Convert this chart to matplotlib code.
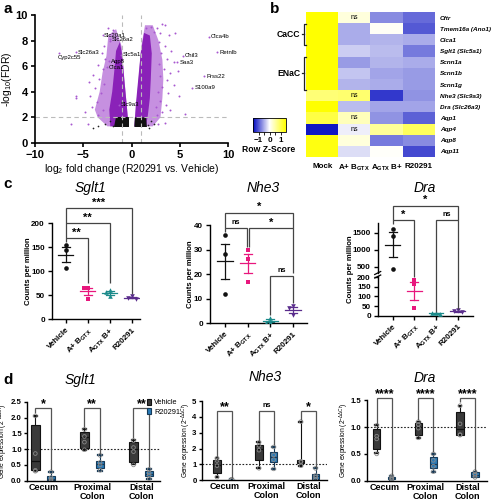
import matplotlib
matplotlib.use('Agg')
import matplotlib.pyplot as plt
import matplotlib.ticker
import numpy as np
from matplotlib.colors import LinearSegmentedColormap
from matplotlib.lines import Line2D
from matplotlib.patches import Polygon, Patch

plt.rcParams['font.family'] = ['Liberation Sans', 'DejaVu Sans']
plt.rcParams['mathtext.fontset'] = 'custom'
plt.rcParams['mathtext.rm'] = 'Liberation Sans'
plt.rcParams['mathtext.it'] = 'Liberation Sans:italic'
plt.rcParams['mathtext.bf'] = 'Liberation Sans:bold'

# ---------------- DATA ----------------
# Panel a: volcano plot (dense cloud envelopes + individual sparse points)
left_sparse = [(-0.3, 1.3), (-0.5, 3), (-0.8, 5.5), (-1.0, 7.5), (-1.6, 8.9), (-2.4, 8.4), (-2.6, 6.8),
               (-3.0, 5.5), (-3.3, 4.0), (-3.8, 2.6), (-3.5, 2.0), (-2.5, 1.3)]
left_dense = [(-0.3, 1.3), (-0.5, 3), (-0.75, 5), (-0.95, 6.8), (-1.2, 7.9), (-1.6, 7.2), (-1.8, 5.5),
              (-2.0, 4), (-2.3, 2.6), (-2.2, 1.3)]
right_sparse = [(0.3, 1.3), (0.5, 3), (0.8, 5.5), (1.0, 7.5), (1.4, 9.2), (2.2, 9.2), (2.8, 8), (3.2, 6.5),
                (3.3, 5), (3.2, 3.5), (3.0, 2.0), (2.2, 1.3)]
right_dense = [(0.3, 1.3), (0.45, 3), (0.7, 5), (0.95, 7), (1.3, 8.6), (1.9, 8.4), (2.1, 7), (2.0, 5),
               (1.9, 3.5), (1.7, 2.2), (1.5, 1.3)]
left_ns = [(-1.8, 1.25), (-0.3, 1.25), (-0.3, 2.0), (-1.6, 2.0)]
right_ns = [(0.3, 1.25), (1.6, 1.25), (1.5, 2.0), (0.35, 2.0)]
sig_x = [1.5, 2.0, 2.6, 3.2, 3.5, 2.3, 3.0, 3.9, 4.5, 2.8, 3.5, 4.1, 3.1, 3.7, 4.4, 2.9, 3.4, 4.0, 4.8, 3.0,
         3.7, 4.4, 3.2, 2.7, 3.8, 4.9, 3.0, 3.6, 2.5, 4.0, 3.2, 5.5, 2.6, 3.5, 2.7,
         -1.9, -2.4, -2.2, -2.8, -3.1, -2.7, -3.5, -3.0, -4.0, -3.4, -2.9, -4.4, -3.8, -3.2, -4.3, -5.7,
         -5.7, -3.6, -4.1, -3.0, -4.8, -3.5, -6.3, -4.5]
sig_y = [9.0, 9.1, 9.0, 9.3, 9.2, 8.7, 8.6, 8.4, 8.6, 7.9, 7.6, 7.2, 7.0, 6.6, 6.3, 6.2, 5.8, 5.5, 5.6, 5.2,
         4.9, 4.5, 4.4, 4.0, 3.9, 3.7, 3.3, 3.0, 2.8, 2.6, 2.4, 2.3, 2.2, 1.6, 1.5,
         8.8, 9.0, 8.0, 7.6, 7.0, 6.6, 6.1, 5.8, 5.3, 5.0, 4.6, 4.8, 4.3, 3.9, 3.7, 3.7,
         3.5, 3.2, 2.8, 2.6, 2.4, 2.2, 1.5, 1.5]
ns_x = [-3.5, -2.7, -2.2, -1.9, -4.0, 1.7, 2.0, 1.8, 2.3]
ns_y = [1.3, 1.5, 1.7, 1.3, 1.2, 1.4, 1.7, 1.2, 1.5]
genes = ['Cyp2c55', 'Slc26a3', 'Slc20a1', 'Slc26a2', 'Slc5a1', 'Aqp8', 'Clca1', 'Slc9a3',
         'Clca4b', 'Retnlb', 'Chil3', 'Saa3', 'Prss22', 'S100a9']
gene_x = [-7.5, -5.7, -3.0, -2.2, -1.1, -2.3, -2.5, -1.3, 8.0, 8.9, 5.3, 4.7, 7.5, 6.3]
gene_y = [7.05, 7.1, 8.4, 8.1, 6.9, 6.4, 5.9, 3.0, 8.3, 7.1, 6.8, 6.3, 5.2, 4.3]

# Panel b: heatmap (row z-scores)
hm_rows = ['Cftr', 'Tmem16a (Ano1)', 'Clca1', 'Sglt1 (Slc5a1)', 'Scnn1a', 'Scnn1b', 'Scnn1g',
           'Nhe3 (Slc9a3)', 'Dra (Slc26a3)', 'Aqp1', 'Aqp4', 'Aqp8', 'Aqp11']
hm_cols = ['Mock', 'A+ B$_{\\mathbf{GTX}}$', 'A$_{\\mathbf{GTX}}$ B+', 'R20291']
mock_z = [1.5, 1.5, 1.5, 1.5, 1.5, 1.5, 1.5, 0.8, 1.5, 1.1, -1.4, 1.4, 1.4]
abgtx_z = [0.2, -0.5, -0.5, -0.3, -0.6, -0.35, -0.45, 0.85, -0.4, 0.4, -0.1, 0.2, -0.2]
agtxb_z = [-0.7, 0.05, -0.45, -0.4, -0.45, -0.55, -0.5, -1.2, -0.55, -0.65, 0.6, -0.8, 0.03]
r20291_z = [-0.9, -1.0, -0.5, -0.8, -0.5, -0.6, -0.6, -0.65, -0.55, -0.95, 0.95, -0.7, -1.1]
ns_cells = [(0, 1), (7, 1), (9, 1), (10, 1)]

# Panel c: counts per million
c_groups = ['Vehicle', 'A+ B$_{\\mathbf{GTX}}$', 'A$_{\\mathbf{GTX}}$ B+', 'R20291']
sglt1_cpm = [[155, 144, 106], [66, 65, 43], [62, 56, 48], [48, 44, 43]]
nhe3_cpm = [[35.9, 28.0, 11.8], [30.0, 26.3, 16.9], [2.3, 0.7, 0.3], [6.9, 6.3, 3.2]]
dra_cpm = [[1607, 1385, 425], [186, 163, 38], [15, 12, 10], [28, 22, 18]]

# Panel d: qPCR box plots (whislo, q1, med, q3, whishi)
regions = ['Cecum', 'Proximal\nColon', 'Distal\nColon']
sglt1_veh = [(0.31, 0.34, 0.62, 1.76, 2.06), (0.97, 1.02, 1.37, 1.55, 1.63), (0.52, 0.60, 1.0, 1.23, 1.28)]
sglt1_r = [(0.0, 0.02, 0.06, 0.15, 0.28), (0.32, 0.39, 0.53, 0.62, 0.81), (0.05, 0.15, 0.22, 0.31, 0.37)]
sglt1_veh_pts = [[2.05, 0.86, 0.33, 0.30], [1.62, 1.40, 1.22, 0.98], [1.27, 1.05, 0.92, 0.50]]
sglt1_r_pts = [[0.28, 0.10, 0.05, 0.02], [0.80, 0.58, 0.50, 0.33], [0.36, 0.25, 0.18, 0.06]]
nhe3_veh = [(0.19, 0.44, 0.97, 1.28, 1.39), (0.76, 1.30, 2.0, 2.25, 2.40), (0.92, 1.11, 1.18, 1.28, 3.70)]
nhe3_r = [(0.0, 0.0, 0.02, 0.05, 0.08), (0.71, 1.13, 1.45, 1.80, 2.12), (0.04, 0.08, 0.25, 0.38, 0.76)]
nhe3_veh_pts = [[1.38, 1.25, 0.92, 0.20], [2.38, 2.20, 1.90, 0.76], [3.70, 1.20, 1.15, 0.92]]
nhe3_r_pts = [[0.07, 0.04, 0.02, 0.01], [2.10, 1.60, 1.30, 0.72], [0.75, 0.30, 0.20, 0.05]]
dra_veh = [(0.51, 0.585, 0.82, 0.96, 1.04), (0.79, 0.85, 0.995, 1.08, 1.10), (0.85, 0.85, 0.96, 1.29, 1.40)]
dra_r = [(0.02, 0.025, 0.05, 0.075, 0.09), (0.17, 0.23, 0.32, 0.45, 0.50), (0.06, 0.075, 0.11, 0.155, 0.17)]
dra_veh_pts = [[1.03, 0.83, 0.78, 0.50], [1.10, 1.05, 0.98, 0.80], [1.40, 1.06, 0.86, 0.85]]
dra_r_pts = [[0.09, 0.06, 0.04, 0.02], [0.50, 0.38, 0.27, 0.17], [0.17, 0.12, 0.10, 0.06]]

# ---------------- FIGURE ----------------
W, H = 493, 500
fig = plt.figure(figsize=(W / 100, H / 100), dpi=100)


def rect(x0, y0, x1, y1):
    return [x0 / W, 1 - y1 / H, (x1 - x0) / W, (y1 - y0) / H]


inv = fig.transFigure.inverted()


def fpt(ax, x, y):
    return inv.transform(ax.transData.transform((x, y)))


def polyline(pts, lw=0.9, color='#444444'):
    P = np.array([fpt(*p) for p in pts])
    fig.add_artist(Line2D(P[:, 0], P[:, 1], transform=fig.transFigure, color=color, lw=lw,
                          solid_joinstyle='miter', solid_capstyle='butt'))


def star(ax, x, y, s, size=8, dy=0.5):
    fx, fy = fpt(ax, x, y)
    if s == 'ns':
        size = 5.2
        dy = 2
    fig.text(fx, fy + dy / H, s, ha='center', va='bottom', fontsize=size, fontweight='bold')


def style_axes(ax, lw=1.0, length=3, pad=2):
    for s in ['top', 'right']:
        ax.spines[s].set_visible(False)
    for s in ['left', 'bottom']:
        ax.spines[s].set_linewidth(lw)
    ax.tick_params(width=lw, length=length, pad=pad)


def ylabel_at(ax, text, px_right, x0, x1, **kw):
    # px_right: pixel x of the label's right edge (rotated label extends to the left)
    ax.set_ylabel(text, **kw)
    ax.yaxis.set_label_coords((px_right - x0) / (x1 - x0), 0.5)


fig.text(3 / W, 1 - 9 / H, 'a', fontsize=11, fontweight='bold', va='center')
fig.text(270 / W, 1 - 9 / H, 'b', fontsize=11, fontweight='bold', va='center')
fig.text(3 / W, 1 - 184 / H, 'c', fontsize=11, fontweight='bold', va='center')
fig.text(3 / W, 1 - 380 / H, 'd', fontsize=11, fontweight='bold', va='center')

# ---- Panel a ----
axa = fig.add_axes(rect(35, 15, 228, 143))
axa.set_xlim(-10, 10)
axa.set_ylim(0, 10)
axa.add_patch(Polygon(left_sparse, closed=True, fc='#c690e0', ec='none'))
axa.add_patch(Polygon(right_sparse, closed=True, fc='#c690e0', ec='none'))
axa.add_patch(Polygon(left_dense, closed=True, fc='#8a22b8', ec='none'))
axa.add_patch(Polygon(right_dense, closed=True, fc='#8a22b8', ec='none'))
axa.scatter(sig_x, sig_y, s=2, c='#a858d0', lw=0)
axa.add_patch(Polygon(left_ns, closed=True, fc='#111111', ec='none'))
axa.add_patch(Polygon(right_ns, closed=True, fc='#111111', ec='none'))
axa.scatter(ns_x, ns_y, s=1.5, c='#222222', lw=0)
axa.scatter(gene_x, gene_y, s=2, c='#a858d0', lw=0)
for g, x, y in zip(genes, gene_x, gene_y):
    if x > 0:
        axa.text(x + 0.25, y, g, fontsize=4.3, va='center', ha='left', clip_on=False)
    elif g == 'Cyp2c55':
        axa.text(x - 0.1, y - 0.35, g, fontsize=4.3, va='center', ha='left')
    else:
        axa.text(x + 0.15, y, g, fontsize=4.3, va='center', ha='left')
for v in (-1, 1):
    axa.axvline(v, ls=(0, (4, 3)), color='#bbbbbb', lw=0.8)
axa.axhline(2, ls=(0, (4, 3)), color='#bbbbbb', lw=0.8)
axa.set_xticks([-10, -5, 0, 5, 10])
axa.set_yticks([0, 2, 4, 6, 8, 10])
style_axes(axa, 1.2)
for t in axa.get_xticklabels() + axa.get_yticklabels():
    t.set_fontsize(8)
    t.set_fontweight('bold')
axa.set_xlabel('log$_2$ fold change (R20291 vs. Vehicle)', fontsize=7.5, labelpad=1.5)
axa.set_ylabel('-log$_{10}$(FDR)', fontsize=7.5, labelpad=1.5)

# ---- Panel b ----
cmap = LinearSegmentedColormap.from_list('byw', ['#0008c0', '#ffffff', '#ffff00'])
Z = np.array([mock_z, abgtx_z, agtxb_z, r20291_z]).T
axb = fig.add_axes(rect(295, 12, 435, 157))
im = axb.imshow(Z, cmap=cmap, vmin=-1.5, vmax=1.5, aspect='auto', interpolation='nearest')
for s in axb.spines.values():
    s.set_visible(False)
axb.yaxis.tick_right()
axb.set_yticks(range(len(hm_rows)))
axb.set_yticklabels(hm_rows, fontsize=4.6, fontstyle='italic', fontweight='bold')
axb.set_xticks(range(4))
axb.set_xticklabels(hm_cols, fontsize=5.8, fontweight='bold')
axb.tick_params(axis='y', length=0, pad=3.5)
axb.tick_params(axis='x', length=0, pad=4)
for r, c in ns_cells:
    axb.text(c, r, 'ns', ha='center', va='center', fontsize=5)
for (r0, r1, lab) in [(1, 2, 'CaCC'), (4, 6, 'ENaC')]:
    bx = -0.56
    axb.plot([bx + 0.07, bx, bx, bx + 0.07], [r0 - 0.45, r0 - 0.45, r1 + 0.45, r1 + 0.45],
             color='#222222', lw=0.9, clip_on=False)
    axb.plot([bx - 0.08, bx], [(r0 + r1) / 2] * 2, color='#222222', lw=0.9, clip_on=False)
    axb.text(bx - 0.12, (r0 + r1) / 2, lab, ha='right', va='center', fontsize=6.2, fontweight='bold')
cax = fig.add_axes(rect(253, 118, 286, 132))
cb = fig.colorbar(im, cax=cax, orientation='horizontal', ticks=[-1, 0, 1])
cb.outline.set_linewidth(0.6)
cax.set_xticks([-1.0, -0.5, 0.5, 1.0], minor=True)
cax.tick_params(labelsize=5.8, length=2.5, width=0.6, pad=1)
cax.tick_params(which='minor', length=2.5, width=0.6)
for t in cax.get_xticklabels():
    t.set_fontweight('bold')
fig.text(269 / W, 1 - 150 / H, 'Row Z-Score', ha='center', va='center', fontsize=6.2, fontweight='bold')

# ---- Panel c ----
dot_colors = ['#111111', '#e8177d', '#1b8a8a', '#5a2d8c']
dot_markers = ['o', 's', '^', 'v']


def swarm_offsets(ax, vals, i, step_px=4.2):
    placed = []
    offs = []
    for v in vals:
        yp = ax.transData.transform((i, v))[1]
        for k in [0, -1, 1, -2, 2]:
            ok = all(abs(yp - py) > 3.8 or k != kk for py, kk in placed)
            if ok:
                break
        placed.append((yp, k))
        offs.append(k)
    x0 = ax.transData.transform((0, 0))[0]
    x1 = ax.transData.transform((1, 0))[0]
    return np.array(offs) * step_px / (x1 - x0)


def dot_panel(axes, data):
    for ax in axes:
        for i, vals in enumerate(data):
            col = dot_colors[i]
            offs = swarm_offsets(axes[-1], vals, i)
            ax.scatter(i + offs, vals, s=11, marker=dot_markers[i], color=col, lw=0, zorder=3)
            m = np.mean(vals)
            se = np.std(vals, ddof=1) / np.sqrt(len(vals))
            ax.plot([i - 0.34, i + 0.34], [m, m], color=col, lw=0.9)
            ax.plot([i, i], [m - se, m + se], color=col, lw=0.9)
            ax.plot([i - 0.18, i + 0.18], [m - se] * 2, color=col, lw=0.9)
            ax.plot([i - 0.18, i + 0.18], [m + se] * 2, color=col, lw=0.9)


def c_xlabels(ax):
    ax.set_xticks(range(4))
    ax.set_xticklabels(c_groups, rotation=45, ha='right', rotation_mode='anchor', fontsize=5.8,
                       fontweight='bold')


def c_ylabels(ax):
    for t in ax.get_yticklabels():
        t.set_fontsize(5.8)
        t.set_fontweight('bold')


cpm_kw = dict(fontsize=5.6, fontweight='bold')

# Sglt1
ax1 = fig.add_axes(rect(51.7, 223.3, 140, 319.3))
ax1.set_xlim(-0.64, 3.37)
ax1.set_ylim(0, 200)
ax1.set_yticks([0, 50, 100, 150, 200])
style_axes(ax1)
dot_panel([ax1], sglt1_cpm)
c_xlabels(ax1)
c_ylabels(ax1)
ylabel_at(ax1, 'Counts per million', 32, 51.7, 140, **cpm_kw)
fig.text(90 / W, 1 - 188 / H, 'Sglt1', fontsize=10, fontstyle='italic', ha='center', va='center')
polyline([(ax1, 0, 162), (ax1, 0, 231), (ax1, 3, 231), (ax1, 3, 52)])
polyline([(ax1, 0, 200), (ax1, 2, 200), (ax1, 2, 75)])
polyline([(ax1, 0, 169), (ax1, 1, 169), (ax1, 1, 75)])
star(ax1, 0.5, 169, '**')
star(ax1, 1.0, 200, '**')
star(ax1, 1.5, 231, '***')

# Nhe3
ax2 = fig.add_axes(rect(210, 225, 306.7, 323.3))
ax2.set_xlim(-0.66, 3.6)
ax2.set_ylim(0, 40)
ax2.set_yticks([0, 10, 20, 30, 40])
style_axes(ax2)
dot_panel([ax2], nhe3_cpm)
c_xlabels(ax2)
c_ylabels(ax2)
ylabel_at(ax2, 'Counts per million', 193.5, 210, 306.7, **cpm_kw)
fig.text(263 / W, 1 - 188 / H, 'Nhe3', fontsize=10, fontstyle='italic', ha='center', va='center')
polyline([(ax2, 0, 38.6), (ax2, 0, 45), (ax2, 3, 45), (ax2, 3, 38.6)])
polyline([(ax2, 0, 37.0), (ax2, 0, 38.6), (ax2, 0.97, 38.6), (ax2, 0.97, 31)])
polyline([(ax2, 1.08, 31), (ax2, 1.08, 38.6), (ax2, 3, 38.6), (ax2, 3, 20.3)])
polyline([(ax2, 2, 3.4), (ax2, 2, 19.2), (ax2, 3, 19.2), (ax2, 3, 8.1)])
star(ax2, 1.5, 45, '*')
star(ax2, 0.48, 38.6, 'ns')
star(ax2, 2.04, 38.6, '*')
star(ax2, 2.5, 19.2, 'ns')

# Dra (broken axis)
axu = fig.add_axes(rect(377.7, 223.3, 473, 273.3))
axl = fig.add_axes(rect(377.7, 276.3, 473, 315.7))
for ax in (axu, axl):
    ax.set_xlim(-0.69, 3.7)
    style_axes(ax)
axu.set_ylim(310, 1770)
axl.set_ylim(0, 205)
axu.set_yticks([500, 1000, 1500])
axl.set_yticks([0, 50, 100, 150, 200])
axu.spines['bottom'].set_visible(False)
axu.set_xticks([])
dot_panel([axu, axl], dra_cpm)
c_xlabels(axl)
c_ylabels(axl)
c_ylabels(axu)
fig.text(350 / W, 1 - 269 / H, 'Counts per million', rotation=90, ha='center', va='center', **cpm_kw)
fig.text(425 / W, 1 - 188 / H, 'Dra', fontsize=10, fontstyle='italic', ha='center', va='center')
bx0 = 377.7 / W
for dy in (273.0, 276.5):
    fig.add_artist(Line2D([bx0 - 3 / W, bx0 + 3 / W], [1 - (dy + 1.5) / H, 1 - (dy - 1.5) / H],
                          transform=fig.transFigure, color='black', lw=0.9))
polyline([(axu, 0, 1853), (axu, 0, 2284), (axu, 3, 2284), (axu, 3, 1853)])
polyline([(axu, 0, 1755), (axu, 0, 1853), (axu, 1, 1853), (axl, 1, 200)])
polyline([(axl, 2, 21), (axu, 2, 1853), (axu, 3, 1853), (axl, 3, 33)])
star(axu, 1.5, 2284, '*')
star(axu, 0.5, 1853, '*')
star(axu, 2.5, 1853, 'ns')

# ---- Panel d ----
veh_face, veh_edge = '#3a3a3a', '#111111'
r_face, r_edge = '#2a7bb8', '#163a58'
gene_label = 'Gene expression (2$^{-\\Delta\\Delta Ct}$)'


def box_panel(ax, veh, rr, veh_pts, r_pts, off):
    for stats, pts, sign, fc, ec in [(veh, veh_pts, -1, veh_face, veh_edge), (rr, r_pts, 1, r_face, r_edge)]:
        st = [dict(whislo=s[0], q1=s[1], med=s[2], q3=s[3], whishi=s[4], fliers=[]) for s in stats]
        pos = np.arange(len(st)) + sign * off
        ax.bxp(st, positions=pos, widths=0.17, patch_artist=True, showfliers=False,
               boxprops=dict(facecolor=fc, edgecolor=ec, lw=0.8),
               medianprops=dict(color=ec, lw=0.9),
               whiskerprops=dict(color=ec, lw=0.8),
               capprops=dict(color=ec, lw=1.6), capwidths=0.07)
        for p, vals in zip(pos, pts):
            ax.scatter([p] * len(vals), vals, s=7, facecolors='none', edgecolors='#8a8a8a', lw=0.6, zorder=4)
    ax.axhline(1, ls=(0, (1.5, 1.5)), color='#222222', lw=0.8, zorder=0)
    ax.set_xticks(range(3))
    ax.set_xticklabels(regions, fontsize=6.5, fontweight='bold', linespacing=1.0)
    style_axes(ax, length=2.5, pad=1.2)
    ax.tick_params(axis='x', length=0, pad=1.5)
    for t in ax.get_yticklabels():
        t.set_fontsize(5.6)
        t.set_fontweight('bold')


def d_brackets(ax, top, legs, labels, off):
    for i, ((lv, lr), lab) in enumerate(zip(legs, labels)):
        polyline([(ax, i - off, lv), (ax, i - off, top), (ax, i + off, top), (ax, i + off, lr)], lw=0.9,
                 color='#555555')
        star(ax, i, top, lab, size=9, dy=-2.5)


ad1 = fig.add_axes(rect(27, 401.7, 160, 480.7))
ad1.set_xlim(-0.33, 2.38)
ad1.set_ylim(0, 2.5)
ad1.set_yticks([0, 0.5, 1.0, 1.5, 2.0, 2.5])
ad1.yaxis.set_major_formatter(matplotlib.ticker.FormatStrFormatter('%.1f'))
box_panel(ad1, sglt1_veh, sglt1_r, sglt1_veh_pts, sglt1_r_pts, 0.16)
ylabel_at(ad1, gene_label, 10.5, 27, 160, fontsize=4.8)
d_brackets(ad1, 2.3, [(2.13, 0.34), (1.7, 0.86), (1.36, 0.44)], ['*', '**', '**'], 0.16)
fig.text(80 / W, 1 - 380 / H, 'Sglt1', fontsize=10, fontstyle='italic', ha='center', va='center')

ad2 = fig.add_axes(rect(201.7, 401, 326.7, 480.3))
ad2.set_xlim(-0.54, 2.44)
ad2.set_ylim(0, 5)
ad2.set_yticks([0, 1, 2, 3, 4, 5])
box_panel(ad2, nhe3_veh, nhe3_r, nhe3_veh_pts, nhe3_r_pts, 0.175)
ylabel_at(ad2, gene_label, 193, 201.7, 326.7, fontsize=4.8)
d_brackets(ad2, 4.37, [(1.45, 0.17), (2.5, 2.23), (3.8, 0.8)], ['**', 'ns', '*'], 0.175)
fig.text(265 / W, 1 - 377 / H, 'Nhe3', fontsize=10, fontstyle='italic', ha='center', va='center')

ad3 = fig.add_axes(rect(366.7, 400.3, 486.7, 480.7))
ad3.set_xlim(-0.42, 2.46)
ad3.set_ylim(0, 1.5)
ad3.set_yticks([0, 0.5, 1.0, 1.5])
ad3.yaxis.set_major_formatter(matplotlib.ticker.FormatStrFormatter('%.1f'))
box_panel(ad3, dra_veh, dra_r, dra_veh_pts, dra_r_pts, 0.18)
ylabel_at(ad3, gene_label, 351, 366.7, 486.7, fontsize=4.8)
d_brackets(ad3, 1.55, [(1.05, 0.1), (1.13, 0.53), (1.47, 0.18)], ['****', '****', '****'], 0.18)
fig.text(425 / W, 1 - 378 / H, 'Dra', fontsize=10, fontstyle='italic', ha='center', va='center')

handles = [Patch(facecolor=veh_face, edgecolor=veh_edge, lw=0.8, label='Vehicle'),
           Patch(facecolor=r_face, edgecolor=r_edge, lw=0.8, label='R20291')]
fig.legend(handles=handles, loc='upper left', bbox_to_anchor=(147 / W, 1 - 399 / H), frameon=False,
           fontsize=5.3, handlelength=0.6, handleheight=0.8, handletextpad=0.35, labelspacing=0.25,
           borderpad=0, borderaxespad=0)

fig.savefig('out.png', dpi=100)
